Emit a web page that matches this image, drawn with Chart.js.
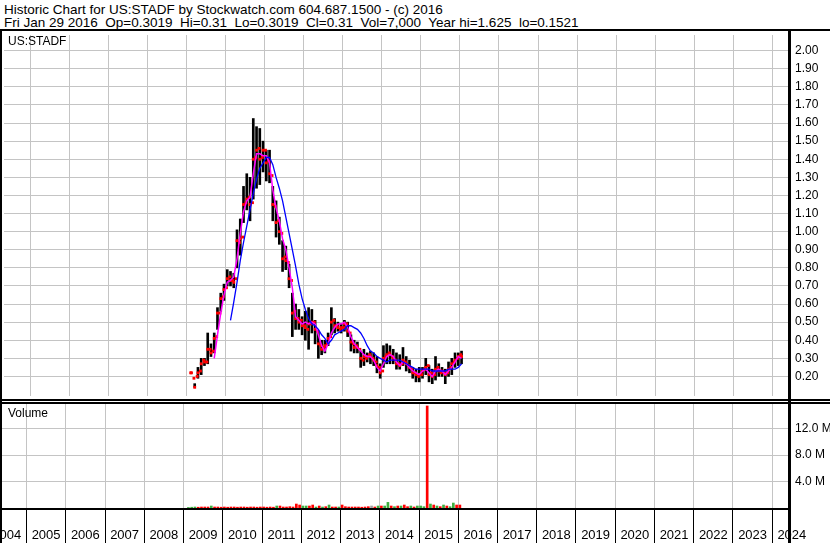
<!DOCTYPE html>
<html><head><meta charset="utf-8">
<script src="https://cdn.jsdelivr.net/npm/chart.js@4.4.1/dist/chart.umd.min.js"></script>
<style>
html,body{margin:0;padding:0;background:#fff;}
body{width:830px;height:543px;overflow:hidden;position:relative;font-family:"Liberation Sans",Arial,sans-serif;color:#000;}
.t{position:absolute;white-space:pre;}
.b{position:absolute;background:#000;z-index:5;}
canvas{position:absolute;left:0;}
</style></head><body>
<div class="t" style="left:4px;top:3px;font-size:13.5px;line-height:13px;">Historic Chart for US:STADF by Stockwatch.com 604.687.1500 - (c) 2016</div>
<div class="t" style="left:4px;top:16px;font-size:13.5px;line-height:13px;">Fri Jan 29 2016  Op=0.3019  Hi=0.31  Lo=0.3019  Cl=0.31  Vol=7,000  Year hi=1.625  lo=0.1521</div>
<canvas id="price" width="830" height="369" style="top:31px"></canvas>
<canvas id="vol" width="830" height="139" style="top:404px"></canvas>
<div class="t" style="left:8px;top:35px;font-size:12px;line-height:12px;z-index:6;">US:STADF</div>
<div class="t" style="left:8px;top:407px;font-size:12px;line-height:12px;z-index:6;">Volume</div>
<div class="b" style="left:0;top:29px;width:830px;height:2px;"></div>
<div class="b" style="left:0;top:29px;width:2px;height:514px;"></div>
<div class="b" style="left:788px;top:29px;width:3px;height:514px;"></div>
<div class="b" style="left:0;top:399px;width:830px;height:2px;"></div>
<div class="b" style="left:0;top:402px;width:830px;height:2px;"></div>
<div class="b" style="left:0;top:508px;width:791px;height:2px;"></div>
<script>
// ---- data ----
const months = [
'2009-02','2009-03','2009-04','2009-05','2009-06','2009-07','2009-08','2009-09','2009-10','2009-11','2009-12',
'2010-01','2010-02','2010-03','2010-04','2010-05','2010-06','2010-07','2010-08','2010-09','2010-10','2010-11','2010-12',
'2011-01','2011-02','2011-03','2011-04','2011-05','2011-06','2011-07','2011-08','2011-09','2011-10','2011-11','2011-12',
'2012-01','2012-02','2012-03','2012-04','2012-05','2012-06','2012-07','2012-08','2012-09','2012-10','2012-11','2012-12',
'2013-01','2013-02','2013-03','2013-04','2013-05','2013-06','2013-07','2013-08','2013-09','2013-10','2013-11','2013-12',
'2014-01','2014-02','2014-03','2014-04','2014-05','2014-06','2014-07','2014-08','2014-09','2014-10','2014-11','2014-12',
'2015-01','2015-02','2015-03','2015-04','2015-05','2015-06','2015-07','2015-08','2015-09','2015-10','2015-11','2015-12',
'2016-01'];
const highs = [
0.22,0.16,0.25,0.30,0.30,0.44,0.38,0.44,0.58,0.66,0.71,
0.79,0.78,0.77,1.01,1.07,1.25,1.32,1.30,1.625,1.58,1.57,1.50,
1.45,1.45,1.25,1.17,1.08,0.95,0.92,0.82,0.66,0.60,0.57,0.53,
0.56,0.58,0.57,0.51,0.45,0.40,0.40,0.44,0.58,0.52,0.50,0.49,
0.51,0.50,0.43,0.40,0.39,0.34,0.35,0.33,0.34,0.33,0.31,0.27,
0.37,0.38,0.37,0.35,0.33,0.32,0.36,0.31,0.29,0.25,0.24,0.25,
0.25,0.30,0.26,0.24,0.31,0.27,0.25,0.24,0.28,0.30,0.33,0.33,
0.34];
const lows = [
0.22,0.14,0.19,0.21,0.26,0.27,0.31,0.33,0.46,0.56,0.62,
0.70,0.70,0.69,0.80,0.87,1.05,1.12,1.06,1.18,1.24,1.26,1.33,
1.28,1.27,1.06,0.97,0.93,0.78,0.79,0.69,0.42,0.46,0.46,0.43,
0.40,0.35,0.44,0.38,0.30,0.32,0.33,0.37,0.43,0.44,0.45,0.44,
0.45,0.42,0.34,0.33,0.33,0.25,0.26,0.28,0.27,0.26,0.22,0.19,
0.25,0.27,0.27,0.27,0.24,0.24,0.26,0.23,0.22,0.19,0.17,0.17,
0.19,0.21,0.17,0.16,0.18,0.20,0.20,0.16,0.20,0.21,0.25,0.26,
0.27];
const opens = [
0.22,0.19,0.20,0.23,0.29,0.28,0.35,0.34,0.42,0.55,0.64,
0.69,0.75,0.73,0.74,0.94,0.97,1.16,1.19,1.16,1.41,1.46,1.41,
1.45,1.39,1.31,1.14,1.06,0.99,0.86,0.83,0.73,0.56,0.52,0.51,
0.48,0.46,0.49,0.50,0.45,0.37,0.36,0.38,0.42,0.51,0.48,0.46,
0.47,0.49,0.44,0.38,0.37,0.35,0.29,0.30,0.32,0.30,0.28,0.25,
0.23,0.31,0.33,0.31,0.29,0.27,0.27,0.28,0.26,0.24,0.22,0.20,
0.21,0.24,0.26,0.22,0.21,0.25,0.22,0.22,0.22,0.25,0.28,0.30,
0.32];
const closes = [
0.22,0.14,0.22,0.27,0.28,0.35,0.33,0.41,0.55,0.63,0.68,
0.74,0.73,0.72,0.95,0.96,1.15,1.18,1.15,1.40,1.45,1.40,1.45,
1.38,1.32,1.15,1.05,1.00,0.85,0.84,0.74,0.55,0.52,0.50,0.48,
0.47,0.49,0.50,0.46,0.38,0.35,0.37,0.41,0.50,0.48,0.47,0.47,
0.49,0.45,0.39,0.36,0.36,0.30,0.31,0.31,0.31,0.29,0.26,0.22,
0.30,0.32,0.32,0.30,0.27,0.26,0.29,0.27,0.25,0.22,0.21,0.21,
0.23,0.25,0.21,0.20,0.24,0.23,0.23,0.21,0.24,0.27,0.29,0.31,
0.31];
const maShort = [
null,null,null,null,null,null,null,0.30,0.43,0.55,0.65,
0.72,0.73,0.75,0.85,0.99,1.11,1.17,1.19,1.32,1.43,1.43,1.42,
1.42,1.38,1.23,1.13,1.06,0.96,0.90,0.80,0.69,0.53,0.51,0.49,
0.50,0.49,0.50,0.49,0.43,0.37,0.34,0.38,0.44,0.47,0.49,0.49,
0.50,0.47,0.42,0.38,0.36,0.34,0.32,0.31,0.31,0.29,0.25,0.23,
0.27,0.31,0.32,0.31,0.28,0.26,0.28,0.27,0.25,0.23,0.22,0.21,
0.23,0.24,0.22,0.20,0.23,0.24,0.23,0.21,0.23,0.25,0.28,0.31,
0.30];
const maLong = [
null,null,null,null,null,null,null,null,null,null,null,
null,0.51,0.61,0.72,0.84,0.94,1.03,1.12,1.21,1.29,1.35,1.38,
1.41,1.41,1.37,1.30,1.24,1.17,1.08,0.99,0.90,0.81,0.71,0.63,
0.57,0.52,0.49,0.48,0.46,0.43,0.41,0.38,0.40,0.43,0.44,0.45,
0.46,0.48,0.48,0.47,0.46,0.44,0.41,0.37,0.34,0.33,0.31,0.30,
0.29,0.28,0.29,0.29,0.29,0.29,0.28,0.27,0.26,0.25,0.24,0.24,
0.24,0.24,0.24,0.23,0.23,0.23,0.23,0.23,0.24,0.24,0.24,0.25,
0.27];
const volumeM = [
0.08,0.12,0.15,0.12,0.15,0.15,0.15,0.30,0.15,0.15,0.12,
0.15,0.12,0.15,0.15,0.12,0.15,0.15,0.12,0.15,0.15,0.12,0.15,
0.15,0.12,0.15,0.12,0.30,0.30,0.15,0.15,0.20,0.15,0.60,0.45,
0.30,0.30,0.30,0.45,0.15,0.30,0.15,0.20,0.45,0.15,0.15,0.15,
0.45,0.20,0.15,0.15,0.15,0.15,0.12,0.15,0.20,0.30,0.15,0.30,
0.30,0.30,0.85,0.30,0.20,0.30,0.30,0.45,0.20,0.30,0.15,0.30,
0.30,0.20,15.4,0.60,0.45,0.30,0.20,0.45,0.30,0.20,0.75,0.45,
0.45];
const volDir = [
1,1,1,-1,-1,-1,-1,1,-1,-1,-1,
-1,-1,-1,-1,-1,-1,-1,-1,-1,-1,-1,-1,
-1,-1,-1,-1,1,-1,-1,-1,-1,-1,-1,-1,
1,1,-1,-1,1,-1,1,-1,1,-1,-1,1,
-1,-1,-1,-1,-1,-1,-1,-1,-1,0,-1,1,
-1,1,1,-1,1,-1,1,-1,-1,1,-1,1,
1,1,-1,1,-1,1,-1,1,-1,1,1,-1,
-1];
const yearTicks = [2004,2005,2006,2007,2008,2009,2010,2011,2012,2013,2014,2015,2016,2017,2018,2019,2020,2021,2022,2023,2024];
const yearLabels = ['2004','2005','2006','2007','2008','2009','2010','2011','2012','2013','2014','2015','2016','2017','2018','2019','2020','2021','2022','2023','2024'];
const priceTicks = [0.2,0.3,0.4,0.5,0.6,0.7,0.8,0.9,1.0,1.1,1.2,1.3,1.4,1.5,1.6,1.7,1.8,1.9,2.0];
const priceLabels = ['0.20','0.30','0.40','0.50','0.60','0.70','0.80','0.90','1.00','1.10','1.20','1.30','1.40','1.50','1.60','1.70','1.80','1.90','2.00'];
const volTicks = [4,8,12];
const volLabels = ['4.0 M','8.0 M','12.0 M'];

// ---- build ----
const toYear = s => { const p = s.split('-').map(Number); return p[0] + (p[1] - 0.5) / 12; };
const tx = months.map(toYear);
const FONT = '"Liberation Sans", Arial, sans-serif';
const GRID = '#c4c4c4';
const X_MIN = 2004.3248, X_MAX = 2024.4013;

function fixY(w){ return s => { s.width = w; s.paddingTop = 0; s.paddingBottom = 0; }; }
function ticksFrom(vals){ return s => { s.ticks = vals.map(v => ({value: v})); }; }

const xPrice = {
  type: 'linear', min: X_MIN, max: X_MAX, offset: false,
  afterBuildTicks: ticksFrom(yearTicks),
  afterFit: s => { s.height = 0; s.paddingLeft = 0; s.paddingRight = 0; },
  grid: { color: GRID, lineWidth: 1, drawTicks: false, offset: false },
  border: { display: false },
  ticks: { display: false }
};

new Chart(document.getElementById('price'), {
  type: 'line',
  data: { datasets: [
    { type: 'line', data: tx.map((x, i) => ({x, y: maLong[i]})), borderColor: '#0000ff', borderWidth: 1.3, pointRadius: 0, tension: 0, order: 1 },
    { type: 'line', data: tx.map((x, i) => ({x, y: maShort[i]})), borderColor: '#ff00ff', borderWidth: 1.5, pointRadius: 0, tension: 0, order: 2 },
    { type: 'line', data: tx.map((x, i) => ({x, y: closes[i]})), showLine: false, pointStyle: 'rect', pointRadius: 2, pointBackgroundColor: '#ff0000', pointBorderWidth: 0, order: 3 },
    { type: 'line', data: tx.map((x, i) => ({x: x - 0.02, y: opens[i]})), showLine: false, pointStyle: 'rect', pointRadius: 2, pointBackgroundColor: '#ff0000', pointBorderWidth: 0, order: 4 },
    { type: 'bar', data: tx.map((x, i) => ({x, y: [lows[i], highs[i]]})), backgroundColor: '#000000', borderWidth: 0, barThickness: 2, grouped: false, order: 5 }
  ]},
  options: {
    responsive: false, animation: false, devicePixelRatio: 1,
    layout: { padding: 0 },
    plugins: { legend: { display: false }, tooltip: { enabled: false } },
    scales: {
      x: xPrice,
      y: {
        position: 'right', min: 0.0919, max: 2.0865,
        afterBuildTicks: ticksFrom(priceTicks),
        afterFit: fixY(42),
        grid: { color: GRID, lineWidth: 1, drawTicks: false },
        border: { display: false },
        ticks: { padding: 7, color: '#000', font: { family: FONT, size: 12 },
          callback: (v) => priceLabels[priceTicks.findIndex(p => Math.abs(p - v) < 1e-6)] }
      }
    }
  }
});

const dirColor = d => d > 0 ? '#3fae3f' : (d < 0 ? '#ff0000' : '#a0a0a0');

new Chart(document.getElementById('vol'), {
  type: 'line',
  data: { datasets: [
    { type: 'bar', data: tx.map((x, i) => ({x, y: volumeM[i]})), backgroundColor: volDir.map(dirColor), borderWidth: 0, barThickness: 2, grouped: false }
  ]},
  options: {
    responsive: false, animation: false, devicePixelRatio: 1,
    layout: { padding: 0 },
    plugins: { legend: { display: false }, tooltip: { enabled: false } },
    scales: {
      x: {
        type: 'linear', min: X_MIN, max: X_MAX, offset: false,
        afterBuildTicks: ticksFrom(yearTicks),
        afterFit: s => { s.height = 35; s.paddingLeft = 0; s.paddingRight = 0; },
        grid: { color: GRID, lineWidth: 1, tickColor: '#000', tickLength: 35, tickWidth: 1, offset: false },
        border: { display: false },
        ticks: { autoSkip: false, maxRotation: 0, minRotation: 0, padding: -15, labelOffset: 19.6,
          color: '#000', font: { family: FONT, size: 13 },
          callback: (v) => yearLabels[yearTicks.indexOf(v)] }
      },
      y: {
        position: 'right', min: 0, max: 15.7,
        afterBuildTicks: ticksFrom(volTicks),
        afterFit: fixY(42),
        grid: { color: GRID, lineWidth: 1, drawTicks: false },
        border: { display: false },
        ticks: { padding: 7, color: '#000', font: { family: FONT, size: 12 },
          callback: (v) => volLabels[volTicks.indexOf(v)] }
      }
    }
  }
});
</script>
</body></html>
